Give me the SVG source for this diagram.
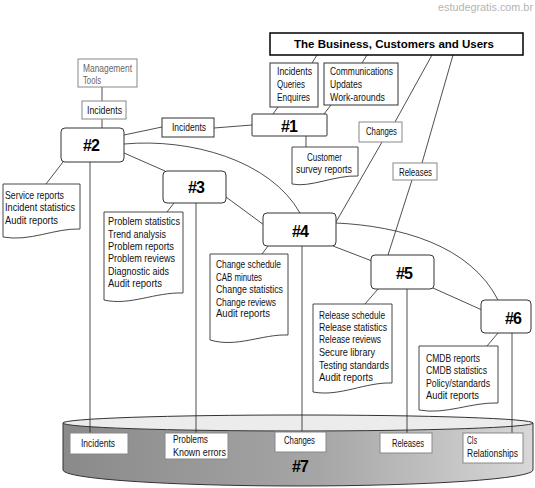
<svg xmlns="http://www.w3.org/2000/svg" width="535" height="488" viewBox="0 0 535 488">
<defs>
<linearGradient id="cyl" x1="0" y1="0" x2="1" y2="0">
<stop offset="0" stop-color="#8a8a8a"/>
<stop offset="0.55" stop-color="#a6a6a6"/>
<stop offset="1" stop-color="#d8d8d8"/>
</linearGradient>
<style>
.t{font-family:"Liberation Sans",Arial,sans-serif;font-size:11.5px;fill:#111}
.g{fill:#666;font-size:10.5px}
.n{font-family:"Liberation Sans",Arial,sans-serif;font-size:16px;font-weight:bold;fill:#000;text-anchor:middle;letter-spacing:-1px}
.box{fill:#fff;stroke:#333;stroke-width:1}
.gbox{fill:#fff;stroke:#888;stroke-width:1}
.node{fill:#fff;stroke:#333;stroke-width:1}
.doc{fill:#fff;stroke:#333;stroke-width:0.9}
.c line,.c path{stroke:#222;stroke-width:0.8;fill:none}
</style>
</defs>
<rect width="535" height="488" fill="#fff"/>
<text x="438" y="11" font-family="Liberation Sans,Arial,sans-serif" font-size="10" fill="#b4b4b4" textLength="95" lengthAdjust="spacingAndGlyphs">estudegratis.com.br</text>

<g id="n7">
<path d="M63,423 V470 A235,16 0 0 0 533,470 V423 Z" fill="url(#cyl)" stroke="#333" stroke-width="1"/>
<ellipse cx="298" cy="423" rx="235" ry="8" fill="#ececec" stroke="#333" stroke-width="1"/>
<text class="n" x="300" y="472">#7</text>
</g>

<g id="connectors" class="c">
<line x1="317" y1="55" x2="312" y2="63"/>
<line x1="367" y1="55" x2="362" y2="63"/>
<line x1="278" y1="107" x2="273" y2="114"/>
<line x1="331" y1="105" x2="324" y2="114"/>
<line x1="252" y1="125" x2="214" y2="128"/>
<line x1="162" y1="127" x2="124" y2="135"/>
<line x1="102" y1="87" x2="102" y2="101"/>
<line x1="102" y1="119" x2="102" y2="128"/>
<path d="M124,144 C190,138 270,160 300,213"/>
<line x1="124" y1="153" x2="165" y2="171"/>
<line x1="226" y1="197" x2="264" y2="225"/>
<line x1="333" y1="246" x2="372" y2="261"/>
<line x1="433" y1="288" x2="482" y2="310"/>
<path d="M336,223 C400,226 470,245 498,300"/>
<line x1="432" y1="55" x2="395" y2="122"/>
<line x1="382" y1="142" x2="336" y2="222"/>
<line x1="453" y1="55" x2="422" y2="163"/>
<line x1="412" y1="180" x2="388" y2="255"/>
<line x1="306" y1="136" x2="306" y2="147"/>
<line x1="63" y1="162" x2="46" y2="184"/>
<line x1="174" y1="203" x2="167" y2="212"/>
<line x1="268" y1="246" x2="262" y2="254"/>
<line x1="378" y1="289" x2="365" y2="304"/>
<line x1="498" y1="333" x2="487" y2="346"/>
<line x1="90" y1="162" x2="90" y2="433"/>
<line x1="196" y1="203" x2="196" y2="433"/>
<line x1="302" y1="246" x2="302" y2="432"/>
<line x1="407" y1="289" x2="407" y2="433"/>
<line x1="512" y1="333" x2="512" y2="433"/>
</g>

<g id="business">
<rect x="270" y="33" width="253" height="22" fill="#fff" stroke="#000" stroke-width="1.5"/>
<text x="294" y="48" font-family="Liberation Sans,Arial,sans-serif" font-size="11.5" font-weight="bold" fill="#000" textLength="200" lengthAdjust="spacingAndGlyphs">The Business, Customers and Users</text>
</g>
<g id="iqe">
<rect class="box" x="270" y="63" width="48" height="44"/>
<text class="t" x="277" y="75" textLength="35" lengthAdjust="spacingAndGlyphs">Incidents</text>
<text class="t" x="277" y="88" textLength="28" lengthAdjust="spacingAndGlyphs">Queries</text>
<text class="t" x="277" y="101" textLength="33" lengthAdjust="spacingAndGlyphs">Enquires</text>
</g>
<g id="comm">
<rect class="box" x="324" y="63" width="74" height="42"/>
<text class="t" x="330" y="75" textLength="63" lengthAdjust="spacingAndGlyphs">Communications</text>
<text class="t" x="330" y="88" textLength="32" lengthAdjust="spacingAndGlyphs">Updates</text>
<text class="t" x="330" y="101" textLength="55" lengthAdjust="spacingAndGlyphs">Work-arounds</text>
</g>
<g id="n1">
<rect class="node" x="252" y="114" width="75" height="22" rx="1"/>
<text class="n" x="289" y="132">#1</text>
</g>
<g id="incidents-mid">
<rect class="box" x="162" y="118" width="52" height="19"/>
<text class="t" x="172" y="131" textLength="34" lengthAdjust="spacingAndGlyphs">Incidents</text>
</g>
<g id="mgmt">
<rect class="gbox" x="78" y="59" width="59" height="28"/>
<text class="t g" x="83" y="72" textLength="49" lengthAdjust="spacingAndGlyphs">Management</text>
<text class="t g" x="83" y="84" textLength="18" lengthAdjust="spacingAndGlyphs">Tools</text>
</g>
<g id="incidents-top">
<rect class="gbox" x="82" y="101" width="44" height="18"/>
<text class="t" x="87" y="114" textLength="35" lengthAdjust="spacingAndGlyphs">Incidents</text>
</g>
<g id="changes-top">
<rect class="gbox" x="359" y="122" width="43" height="20"/>
<text class="t" x="366" y="135" textLength="31" lengthAdjust="spacingAndGlyphs">Changes</text>
</g>
<g id="releases-top">
<rect class="gbox" x="393" y="163" width="44" height="17"/>
<text class="t" x="399" y="176" textLength="33" lengthAdjust="spacingAndGlyphs">Releases</text>
</g>
<g id="customer-doc">
<path class="doc" d="M292,147 H358 V176 C335,175 310,188 292,184 Z"/>
<text class="t" x="307" y="161" textLength="35" lengthAdjust="spacingAndGlyphs">Customer</text>
<text class="t" x="296" y="173" textLength="56" lengthAdjust="spacingAndGlyphs">survey reports</text>
</g>
<g id="n2">
<rect class="node" x="61" y="128" width="63" height="34" rx="4"/>
<text class="n" x="91" y="151">#2</text>
</g>
<g id="service-doc">
<path class="doc" d="M3,184 H80 V229 C55,228 30,242 3,237 Z"/>
<text class="t" x="5" y="199" textLength="59" lengthAdjust="spacingAndGlyphs">Service reports</text>
<text class="t" x="5" y="211" textLength="70" lengthAdjust="spacingAndGlyphs">Incident statistics</text>
<text class="t" x="5" y="224" textLength="53" lengthAdjust="spacingAndGlyphs">Audit reports</text>
</g>
<g id="n3">
<rect class="node" x="163" y="171" width="63" height="32" rx="4"/>
<text class="n" x="196" y="193">#3</text>
</g>
<g id="problem-doc">
<path class="doc" d="M104,212 H183 V293 C155,292 130,306 104,300 Z"/>
<text class="t" x="108" y="225" textLength="72" lengthAdjust="spacingAndGlyphs">Problem statistics</text>
<text class="t" x="108" y="238" textLength="58" lengthAdjust="spacingAndGlyphs">Trend analysis</text>
<text class="t" x="108" y="250" textLength="66" lengthAdjust="spacingAndGlyphs">Problem reports</text>
<text class="t" x="108" y="262" textLength="67" lengthAdjust="spacingAndGlyphs">Problem reviews</text>
<text class="t" x="108" y="275" textLength="61" lengthAdjust="spacingAndGlyphs">Diagnostic aids</text>
<text class="t" x="108" y="287" textLength="54" lengthAdjust="spacingAndGlyphs">Audit reports</text>
</g>
<g id="n4">
<rect class="node" x="263" y="213" width="73" height="33" rx="4"/>
<text class="n" x="300" y="237">#4</text>
</g>
<g id="change-doc">
<path class="doc" d="M210,254 H288 V335 C262,334 237,348 210,340 Z"/>
<text class="t" x="216" y="268" textLength="65" lengthAdjust="spacingAndGlyphs">Change schedule</text>
<text class="t" x="216" y="281" textLength="46" lengthAdjust="spacingAndGlyphs">CAB minutes</text>
<text class="t" x="216" y="293" textLength="67" lengthAdjust="spacingAndGlyphs">Change statistics</text>
<text class="t" x="216" y="306" textLength="60" lengthAdjust="spacingAndGlyphs">Change reviews</text>
<text class="t" x="216" y="317" textLength="54" lengthAdjust="spacingAndGlyphs">Audit reports</text>
</g>
<g id="n5">
<rect class="node" x="371" y="255" width="63" height="34" rx="4"/>
<text class="n" x="404" y="279">#5</text>
</g>
<g id="release-doc">
<path class="doc" d="M313,304 H392 V383 C365,382 340,397 313,392 Z"/>
<text class="t" x="319" y="319" textLength="66" lengthAdjust="spacingAndGlyphs">Release schedule</text>
<text class="t" x="319" y="331" textLength="68" lengthAdjust="spacingAndGlyphs">Release statistics</text>
<text class="t" x="319" y="343" textLength="62" lengthAdjust="spacingAndGlyphs">Release reviews</text>
<text class="t" x="319" y="356" textLength="56" lengthAdjust="spacingAndGlyphs">Secure library</text>
<text class="t" x="319" y="369" textLength="70" lengthAdjust="spacingAndGlyphs">Testing standards</text>
<text class="t" x="319" y="381" textLength="54" lengthAdjust="spacingAndGlyphs">Audit reports</text>
</g>
<g id="n6">
<rect class="node" x="481" y="300" width="50" height="33" rx="4"/>
<text class="n" x="513" y="324">#6</text>
</g>
<g id="cmdb-doc">
<path class="doc" d="M419,346 H498 V403 C471,402 446,415 419,410 Z"/>
<text class="t" x="426" y="362" textLength="54" lengthAdjust="spacingAndGlyphs">CMDB reports</text>
<text class="t" x="426" y="374" textLength="61" lengthAdjust="spacingAndGlyphs">CMDB statistics</text>
<text class="t" x="426" y="387" textLength="64" lengthAdjust="spacingAndGlyphs">Policy/standards</text>
<text class="t" x="426" y="399" textLength="53" lengthAdjust="spacingAndGlyphs">Audit reports</text>
</g>
<g id="db-incidents">
<rect class="gbox" x="70" y="433" width="58" height="21"/>
<text class="t" x="81" y="447" textLength="34" lengthAdjust="spacingAndGlyphs">Incidents</text>
</g>
<g id="db-problems">
<rect class="gbox" x="165" y="433" width="63" height="26"/>
<text class="t" x="173" y="443" textLength="35" lengthAdjust="spacingAndGlyphs">Problems</text>
<text class="t" x="173" y="456" textLength="53" lengthAdjust="spacingAndGlyphs">Known errors</text>
</g>
<g id="db-changes">
<rect class="gbox" x="275" y="432" width="51" height="20"/>
<text class="t" x="284" y="444" textLength="31" lengthAdjust="spacingAndGlyphs">Changes</text>
</g>
<g id="db-releases">
<rect class="gbox" x="380" y="433" width="52" height="20"/>
<text class="t" x="392" y="447" textLength="32" lengthAdjust="spacingAndGlyphs">Releases</text>
</g>
<g id="db-cis">
<rect class="gbox" x="463" y="433" width="60" height="30"/>
<text class="t" x="467" y="444" textLength="10" lengthAdjust="spacingAndGlyphs">CIs</text>
<text class="t" x="467" y="457" textLength="51" lengthAdjust="spacingAndGlyphs">Relationships</text>
</g>
</svg>
